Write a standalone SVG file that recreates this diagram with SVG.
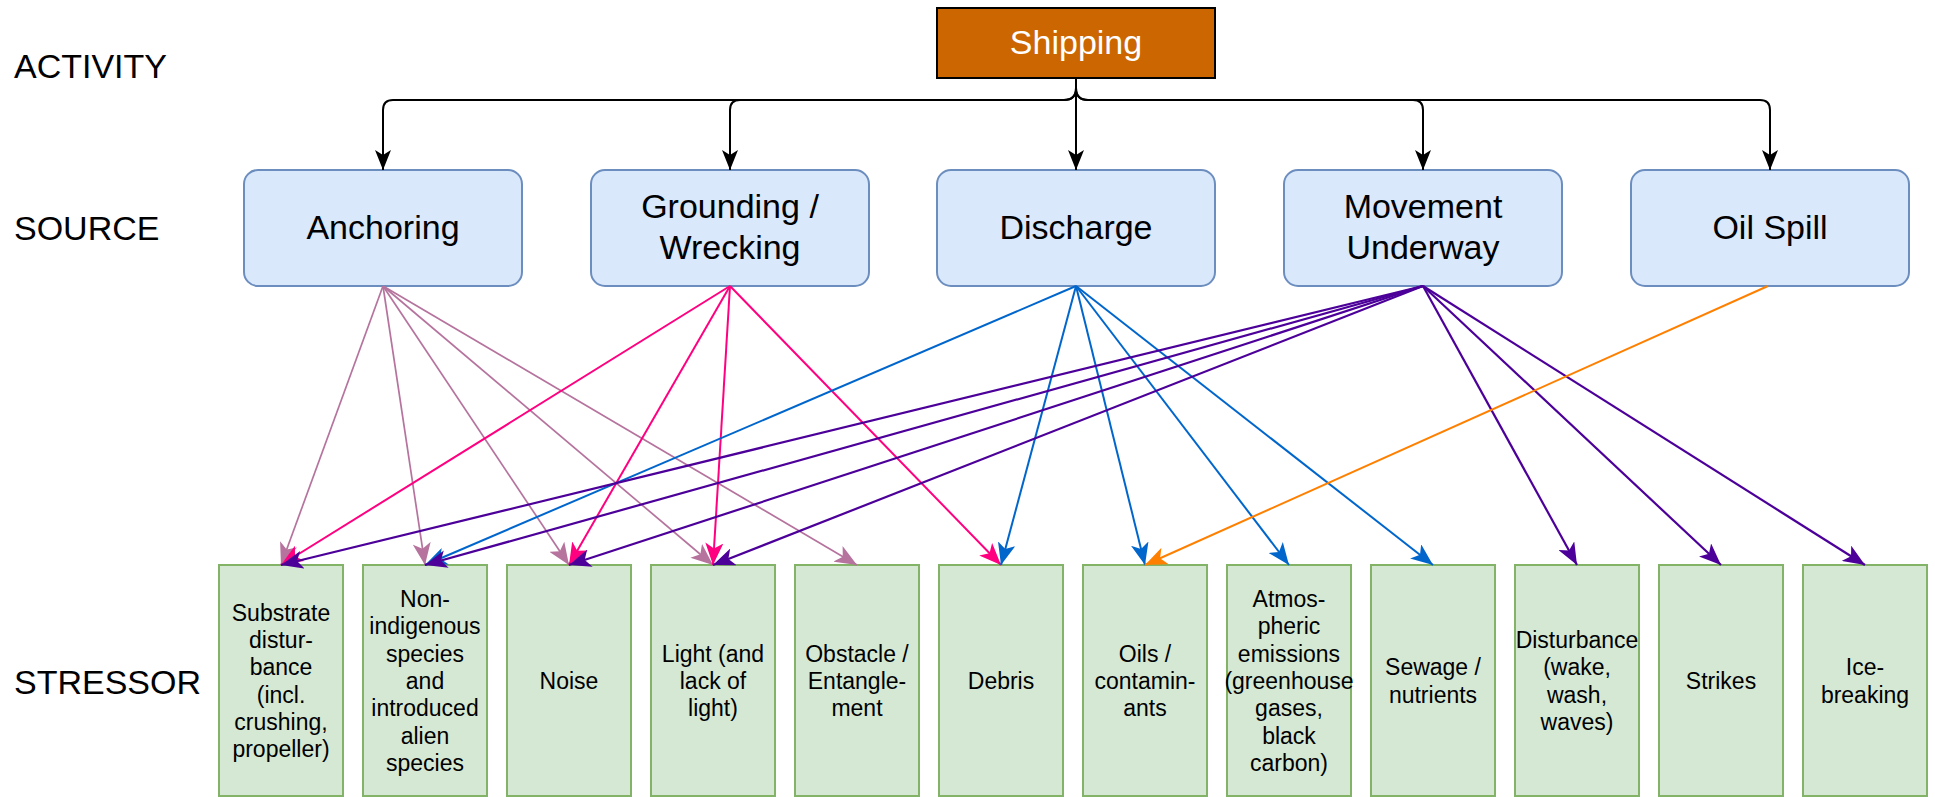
<svg xmlns="http://www.w3.org/2000/svg" width="1935" height="797" viewBox="0 0 1935 797">
  <style>
    .lbl { font-family: "Liberation Sans", Arial, sans-serif; font-size: 34px; fill: #000; }
    .src rect { fill: #dae8fc; stroke: #6c8ebf; stroke-width: 2; }
    .src text { font-family: "Liberation Sans", Arial, sans-serif; font-size: 34px; fill: #000; text-anchor: middle; }
    .str rect { fill: #d5e8d4; stroke: #82b366; stroke-width: 2; }
    .str text { font-family: "Liberation Sans", Arial, sans-serif; font-size: 23px; fill: #000; text-anchor: middle; }
    .tree path { fill: none; stroke: #000; stroke-width: 2; marker-end: url(#a-black); }
    .e { fill: none; stroke-width: 2; }
    .anc { stroke: #B5739D; stroke-width: 1.7; marker-end: url(#a-anc); }
    .grd { stroke: #FF0080; marker-end: url(#a-grd); }
    .dis { stroke: #0066CC; marker-end: url(#a-dis); }
    .mov { stroke: #4C0099; stroke-width: 2.2; marker-end: url(#a-mov); }
    .oil { stroke: #FF8000; marker-end: url(#a-oil); }
  </style>
  <defs>
    <marker id="a-black" markerUnits="userSpaceOnUse" markerWidth="20" markerHeight="16" viewBox="0 0 20 16" refX="20" refY="8" orient="auto">
      <path d="M0,0 L20,8 L0,16 L5,8 Z" fill="#000"/>
    </marker>
    <marker id="a-anc" markerUnits="userSpaceOnUse" markerWidth="22" markerHeight="18" viewBox="0 0 22 18" refX="22" refY="9" orient="auto">
      <path d="M0,0 L22,9 L0,18 L5.5,9 Z" fill="#B5739D"/>
    </marker>
    <marker id="a-grd" markerUnits="userSpaceOnUse" markerWidth="22" markerHeight="18" viewBox="0 0 22 18" refX="22" refY="9" orient="auto">
      <path d="M0,0 L22,9 L0,18 L5.5,9 Z" fill="#FF0080"/>
    </marker>
    <marker id="a-dis" markerUnits="userSpaceOnUse" markerWidth="22" markerHeight="18" viewBox="0 0 22 18" refX="22" refY="9" orient="auto">
      <path d="M0,0 L22,9 L0,18 L5.5,9 Z" fill="#0066CC"/>
    </marker>
    <marker id="a-mov" markerUnits="userSpaceOnUse" markerWidth="22" markerHeight="18" viewBox="0 0 22 18" refX="22" refY="9" orient="auto">
      <path d="M0,0 L22,9 L0,18 L5.5,9 Z" fill="#4C0099"/>
    </marker>
    <marker id="a-oil" markerUnits="userSpaceOnUse" markerWidth="22" markerHeight="18" viewBox="0 0 22 18" refX="22" refY="9" orient="auto">
      <path d="M0,0 L22,9 L0,18 L5.5,9 Z" fill="#FF8000"/>
    </marker>
  </defs>
  <rect width="1935" height="797" fill="#fff"/>

  <!-- level labels -->
  <g id="levels">
    <text class="lbl" x="14" y="78">ACTIVITY</text>
    <text class="lbl" x="14" y="240">SOURCE</text>
    <text class="lbl" x="14" y="694">STRESSOR</text>
  </g>

  <!-- activity -->
  <g id="shipping">
    <rect x="937" y="8" width="278" height="70" fill="#CC6600" stroke="#000" stroke-width="2"/>
    <text x="1076" y="54" font-family="Liberation Sans, Arial, sans-serif" font-size="34" fill="#fff" text-anchor="middle">Shipping</text>
  </g>

  <!-- sources -->
  <g id="anchoring" class="src">
    <rect x="244" y="170" width="278" height="116" rx="14"/>
    <text x="383" y="239">Anchoring</text>
  </g>
  <g id="grounding" class="src">
    <rect x="591" y="170" width="278" height="116" rx="14"/>
    <text x="730" y="218">Grounding /</text>
    <text x="730" y="259">Wrecking</text>
  </g>
  <g id="discharge" class="src">
    <rect x="937" y="170" width="278" height="116" rx="14"/>
    <text x="1076" y="239">Discharge</text>
  </g>
  <g id="movement" class="src">
    <rect x="1284" y="170" width="278" height="116" rx="14"/>
    <text x="1423" y="218">Movement</text>
    <text x="1423" y="259">Underway</text>
  </g>
  <g id="oilspill" class="src">
    <rect x="1631" y="170" width="278" height="116" rx="14"/>
    <text x="1770" y="239">Oil Spill</text>
  </g>

  <!-- stressors -->
  <g id="substrate" class="str">
    <rect x="219" y="565" width="124" height="231"/>
    <text x="281" y="621">Substrate</text>
    <text x="281" y="648">distur-</text>
    <text x="281" y="675">bance</text>
    <text x="281" y="703">(incl.</text>
    <text x="281" y="730">crushing,</text>
    <text x="281" y="757">propeller)</text>
  </g>
  <g id="nonindigenous" class="str">
    <rect x="363" y="565" width="124" height="231"/>
    <text x="425" y="607">Non-</text>
    <text x="425" y="634">indigenous</text>
    <text x="425" y="662">species</text>
    <text x="425" y="689">and</text>
    <text x="425" y="716">introduced</text>
    <text x="425" y="744">alien</text>
    <text x="425" y="771">species</text>
  </g>
  <g id="noise" class="str">
    <rect x="507" y="565" width="124" height="231"/>
    <text x="569" y="689">Noise</text>
  </g>
  <g id="light" class="str">
    <rect x="651" y="565" width="124" height="231"/>
    <text x="713" y="662">Light (and</text>
    <text x="713" y="689">lack of</text>
    <text x="713" y="716">light)</text>
  </g>
  <g id="obstacle" class="str">
    <rect x="795" y="565" width="124" height="231"/>
    <text x="857" y="662">Obstacle /</text>
    <text x="857" y="689">Entangle-</text>
    <text x="857" y="716">ment</text>
  </g>
  <g id="debris" class="str">
    <rect x="939" y="565" width="124" height="231"/>
    <text x="1001" y="689">Debris</text>
  </g>
  <g id="oils" class="str">
    <rect x="1083" y="565" width="124" height="231"/>
    <text x="1145" y="662">Oils /</text>
    <text x="1145" y="689">contamin-</text>
    <text x="1145" y="716">ants</text>
  </g>
  <g id="atmospheric" class="str">
    <rect x="1227" y="565" width="124" height="231"/>
    <text x="1289" y="607">Atmos-</text>
    <text x="1289" y="634">pheric</text>
    <text x="1289" y="662">emissions</text>
    <text x="1289" y="689">(greenhouse</text>
    <text x="1289" y="716">gases,</text>
    <text x="1289" y="744">black</text>
    <text x="1289" y="771">carbon)</text>
  </g>
  <g id="sewage" class="str">
    <rect x="1371" y="565" width="124" height="231"/>
    <text x="1433" y="675">Sewage /</text>
    <text x="1433" y="703">nutrients</text>
  </g>
  <g id="disturbance" class="str">
    <rect x="1515" y="565" width="124" height="231"/>
    <text x="1577" y="648">Disturbance</text>
    <text x="1577" y="675">(wake,</text>
    <text x="1577" y="703">wash,</text>
    <text x="1577" y="730">waves)</text>
  </g>
  <g id="strikes" class="str">
    <rect x="1659" y="565" width="124" height="231"/>
    <text x="1721" y="689">Strikes</text>
  </g>
  <g id="icebreaking" class="str">
    <rect x="1803" y="565" width="124" height="231"/>
    <text x="1865" y="675">Ice-</text>
    <text x="1865" y="703">breaking</text>
  </g>

  <!-- connectors -->
  <g id="connectors">
    <g class="tree">
      <path d="M1076,78 L1076,88 Q1076,100 1064,100 L393,100 Q383,100 383,110 L383,170"/>
      <path d="M1076,78 L1076,88 Q1076,100 1064,100 L740,100 Q730,100 730,110 L730,170"/>
      <path d="M1076,78 L1076,170"/>
      <path d="M1076,78 L1076,88 Q1076,100 1088,100 L1413,100 Q1423,100 1423,110 L1423,170"/>
      <path d="M1076,78 L1076,88 Q1076,100 1088,100 L1760,100 Q1770,100 1770,110 L1770,170"/>
    </g>
    <!-- Anchoring -->
    <path class="e anc" d="M383,286 L281,565"/>
    <path class="e anc" d="M383,286 L425,565"/>
    <path class="e anc" d="M383,286 L569,565"/>
    <path class="e anc" d="M383,286 L713,565"/>
    <path class="e anc" d="M383,286 L857,565"/>
    <!-- Grounding / Wrecking -->
    <path class="e grd" d="M730,286 L281,565"/>
    <path class="e grd" d="M730,286 L569,565"/>
    <path class="e grd" d="M730,286 L713,565"/>
    <path class="e grd" d="M730,286 L1001,565"/>
    <!-- Discharge -->
    <path class="e dis" d="M1076,286 L425,565"/>
    <path class="e dis" d="M1076,286 L1001,565"/>
    <path class="e dis" d="M1076,286 L1145,565"/>
    <path class="e dis" d="M1076,286 L1289,565"/>
    <path class="e dis" d="M1076,286 L1433,565"/>
    <!-- Movement Underway -->
    <path class="e mov" d="M1423,286 L281,565"/>
    <path class="e mov" d="M1423,286 L425,565"/>
    <path class="e mov" d="M1423,286 L569,565"/>
    <path class="e mov" d="M1423,286 L713,565"/>
    <path class="e mov" d="M1423,286 L1577,565"/>
    <path class="e mov" d="M1423,286 L1721,565"/>
    <path class="e mov" d="M1423,286 L1865,565"/>
    <!-- Oil Spill -->
    <path class="e oil" d="M1768,286 L1145,565"/>
  </g>
</svg>
